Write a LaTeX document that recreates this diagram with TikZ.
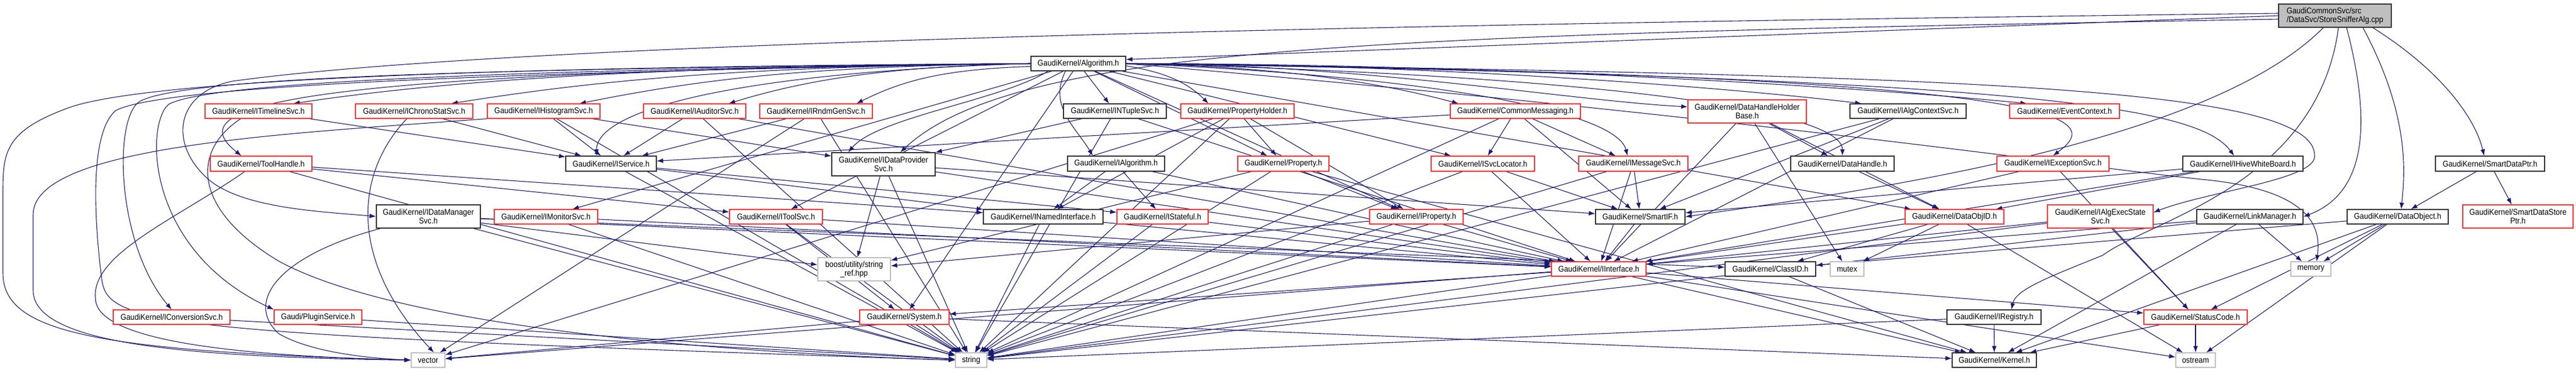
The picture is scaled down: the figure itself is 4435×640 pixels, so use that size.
\documentclass[tikz,border=0pt]{standalone}
\usepackage{fontspec}
\setmainfont{Liberation Sans}[FakeStretch=0.9]
\usetikzlibrary{arrows.meta}
\definecolor{gblue}{RGB}{25,25,112}
\definecolor{gred}{RGB}{255,50,50}
\definecolor{ggray}{RGB}{191,191,191}
\definecolor{gblk}{RGB}{50,50,50}
\pgfdeclarelayer{bg}
\pgfsetlayers{bg,main}
\newcommand\gfont{\fontsize{14.3}{15}\selectfont}
\newcommand\gnode[7]{%
 \pgfmathsetmacro\gw{#5-#3}%
 \pgfmathsetmacro\gh{#6-#4}%
 \pgfmathsetmacro\gx{(#3+#5)/2}%
 \pgfmathsetmacro\gy{(#4+#6)/2}%
 \node[#2,minimum width=\gw pt,minimum height=\gh pt] (#1) at (\gx,\gy) {#7};}
\tikzset{
 nb/.style={draw, line width=1.2pt, fill=white, inner sep=0pt, font=\gfont, align=center},
 blk/.style={nb, draw=gblk},
 rd/.style={nb, draw=gred},
 gr/.style={nb, draw=ggray},
 rt/.style={nb, draw=gblk, fill=ggray, align=left},
 e/.style={draw=gblue, line width=1.1pt, -{Latex[length=11pt,width=8pt]}},
}
\begin{document}
\begin{tikzpicture}[x=1pt,y=-1pt]
\useasboundingbox (0,0) rectangle (4435,640);
% row 0
\gnode{root}{rt}{3923}{7}{4117}{47}{GaudiCommonSvc/src\\/DataSvc/StoreSnifferAlg.cpp}
% row 1
\gnode{alg}{blk}{1775}{97}{1938}{122}{GaudiKernel/Algorithm.h}
% row 2
\gnode{tl}{rd}{353}{179}{537}{204}{GaudiKernel/ITimelineSvc.h}
\gnode{cs}{rd}{612}{179}{814}{204}{GaudiKernel/IChronoStatSvc.h}
\gnode{hs}{rd}{839}{179}{1033}{204}{GaudiKernel/IHistogramSvc.h}
\gnode{au}{rd}{1108}{179}{1284}{204}{GaudiKernel/IAuditorSvc.h}
\gnode{rg}{rd}{1308}{179}{1502}{204}{GaudiKernel/IRndmGenSvc.h}
\gnode{nt}{blk}{1831}{179}{2008}{204}{GaudiKernel/INTupleSvc.h}
\gnode{ph}{rd}{2033}{179}{2228}{204}{GaudiKernel/PropertyHolder.h}
\gnode{cm}{rd}{2497}{179}{2721}{204}{GaudiKernel/CommonMessaging.h}
\gnode{dhh}{rd}{2906}{172}{3110}{212}{GaudiKernel/DataHandleHolder\\Base.h}
\gnode{acs}{blk}{3185}{179}{3385}{204}{GaudiKernel/IAlgContextSvc.h}
\gnode{ec}{rd}{3460}{179}{3649}{204}{GaudiKernel/EventContext.h}
% row 3
\gnode{th}{rd}{362}{269}{537}{295}{GaudiKernel/ToolHandle.h}
\gnode{svc}{blk}{974}{269}{1130}{295}{GaudiKernel/IService.h}
\gnode{dps}{blk}{1432}{263}{1610}{303}{GaudiKernel/IDataProvider\\Svc.h}
\gnode{ialg}{blk}{1838}{269}{2005}{295}{GaudiKernel/IAlgorithm.h}
\gnode{prop}{rd}{2131}{269}{2288}{295}{GaudiKernel/Property.h}
\gnode{sl}{rd}{2464}{269}{2642}{295}{GaudiKernel/ISvcLocator.h}
\gnode{ms}{rd}{2718}{269}{2906}{295}{GaudiKernel/IMessageSvc.h}
\gnode{dh}{blk}{3083}{269}{3261}{295}{GaudiKernel/DataHandle.h}
\gnode{es}{rd}{3438}{269}{3631}{295}{GaudiKernel/IExceptionSvc.h}
\gnode{hwb}{blk}{3758}{269}{3965}{295}{GaudiKernel/IHiveWhiteBoard.h}
\gnode{sdp}{blk}{4193}{269}{4381}{295}{GaudiKernel/SmartDataPtr.h}
% row 4
\gnode{dms}{blk}{648}{353}{827}{393}{GaudiKernel/IDataManager\\Svc.h}
\gnode{mon}{rd}{851}{361}{1029}{386}{GaudiKernel/IMonitorSvc.h}
\gnode{ts}{rd}{1256}{361}{1416}{386}{GaudiKernel/IToolSvc.h}
\gnode{ni}{blk}{1693}{361}{1899}{386}{GaudiKernel/INamedInterface.h}
\gnode{st}{rd}{1923}{361}{2080}{386}{GaudiKernel/IStateful.h}
\gnode{ip}{rd}{2358}{361}{2519}{386}{GaudiKernel/IProperty.h}
\gnode{sif}{blk}{2747}{361}{2901}{386}{GaudiKernel/SmartIF.h}
\gnode{doid}{rd}{3280}{361}{3450}{386}{GaudiKernel/DataObjID.h}
\gnode{aes}{rd}{3525}{353}{3707}{393}{GaudiKernel/IAlgExecState\\Svc.h}
\gnode{lm}{blk}{3782}{361}{3965}{386}{GaudiKernel/LinkManager.h}
\gnode{dobj}{blk}{4041}{361}{4215}{386}{GaudiKernel/DataObject.h}
\gnode{sdsp}{rd}{4240}{353}{4430}{393}{GaudiKernel/SmartDataStore\\Ptr.h}
% row 5
\gnode{boost}{gr}{1408}{444}{1533}{484}{boost/utility/string\\\_ref.hpp}
\gnode{ii}{rd}{2671}{451}{2834}{476}{GaudiKernel/IInterface.h}
\gnode{cid}{blk}{2970}{451}{3126}{476}{GaudiKernel/ClassID.h}
\gnode{mutex}{gr}{3151}{451}{3209}{476}{mutex}
\gnode{mem}{gr}{3944}{451}{4013}{476}{memory}
% row 6
\gnode{conv}{rd}{195}{534}{396}{559}{GaudiKernel/IConversionSvc.h}
\gnode{plug}{rd}{472}{534}{623}{559}{Gaudi/PluginService.h}
\gnode{sys}{rd}{1480}{534}{1634}{559}{GaudiKernel/System.h}
\gnode{reg}{blk}{3352}{534}{3514}{559}{GaudiKernel/IRegistry.h}
\gnode{sc}{rd}{3691}{534}{3869}{559}{GaudiKernel/StatusCode.h}
% row 7
\gnode{vec}{gr}{708}{608}{766}{633}{vector}
\gnode{str}{gr}{1645}{608}{1699}{633}{string}
\gnode{ker}{blk}{3361}{608}{3506}{633}{GaudiKernel/Kernel.h}
\gnode{ost}{gr}{3746}{608}{3814}{633}{ostream}

\begin{pgfonlayer}{bg}
\fill[white] (0,0) rectangle (4435,640);
% root edges
\draw[e] (root.west) -- ([yshift=7pt]alg.east);
\draw[e] ([yshift=-6pt]root.west) .. controls (2400,60) and (1750,75) .. ([xshift=29pt]dps.north);
\draw[e] ([yshift=4pt]root.west) .. controls (2500,40) and (900,70) .. (400,140) .. controls (300,160) and (290,250) .. (360,310) .. controls (420,360) and (560,365) .. (dms.west);
\draw[e] ([xshift=20pt]root.south) .. controls (4080,200) and (4080,330) .. (lm.east);
\draw[e] ([xshift=48pt]root.south) .. controls (4150,200) and (4140,300) .. ([xshift=6pt]dobj.north);
\draw[e] ([xshift=65pt]root.south) .. controls (4200,120) and (4260,200) .. ([xshift=-10pt]sdp.north);
\draw[e] ([xshift=6pt]root.south) .. controls (3990,320) and (3700,380) .. (3620,440) .. controls (3520,480) and (3470,500) .. ([xshift=30pt]reg.north);
\draw[e] ([xshift=-20pt]root.south) .. controls (3800,250) and (3200,330) .. (sif.east);
% algorithm edges, left side
\draw[e] (alg.west) .. controls +(-600,5) and +(300,-45) .. ([xshift=60pt]tl.north);
\draw[e] (alg.west) .. controls +(-500,5) and +(250,-40) .. ([xshift=64pt]cs.north);
\draw[e] (alg.west) .. controls +(-400,5) and +(200,-40) .. ([xshift=-36pt]hs.north east);
\draw[e] (alg.west) .. controls +(-250,5) and +(130,-40) .. ([xshift=-30pt]au.north east);
\draw[e] ([yshift=-5pt]alg.west) .. controls +(-150,5) and +(80,-40) .. ([xshift=-28pt]rg.north east);
\draw[e] (alg.west) .. controls +(-500,15) and +(0,-80) .. ([xshift=-25pt]svc.north);
\draw[e] (alg.west) .. controls +(-1350,15) and +(-100,-80) .. ([xshift=-34pt]th.north);
\draw[e] ([xshift=30pt]alg.south west) .. controls +(-80,50) and +(50,-60) .. ([xshift=29pt]dps.north west);
\draw[e] ([xshift=60pt]alg.south west) .. controls +(-30,60) and +(-30,-50) .. ([xshift=-40pt]ialg.north);
% algorithm edges, right side
\draw[e] ([yshift=-4pt]alg.east) .. controls +(60,10) and +(-40,-40) .. ([xshift=-50pt]ph.north);
\draw[e] (alg.east) .. controls +(250,5) and +(-150,-40) .. ([xshift=-98pt]cm.north);
\draw[e] (alg.east) .. controls +(400,0) and +(-200,-10) .. ([yshift=8pt]dhh.west);
\draw[e] (alg.east) .. controls +(500,0) and +(-250,-30) .. ([xshift=-80pt]acs.north);
\draw[e] (alg.east) .. controls +(600,0) and +(-300,-30) .. ([xshift=-65pt]ec.north);
\draw[e] (alg.east) .. controls +(500,20) and +(-20,-80) .. ([xshift=-10pt]ms.north);
\draw[e] (alg.east) .. controls +(800,20) and +(0,-80) .. (dh.north);
\draw[e] (alg.east) .. controls +(1700,20) and +(80,-60) .. (es.north);
\draw[e] (alg.east) .. controls +(1600,25) and +(-60,-80) .. ([xshift=-15pt]hwb.north);
\draw[e] (alg.east) .. controls (3400,130) and (3990,150) .. (3985,270) .. controls (3983,310) and (3800,330) .. ([yshift=7pt]aes.east);
\draw[e] (alg.east) .. controls (3000,200) and (3600,290) .. (3800,310) .. controls (3990,330) and (3995,400) .. ([xshift=10pt]mem.north);
% far-left routed edges
\draw[e] (alg.west) .. controls (900,118) and (320,130) .. (240,175) .. controls (195,205) and (200,420) .. (conv.north);
\draw[e] (alg.west) .. controls (900,120) and (360,140) .. (290,180) .. controls (250,215) and (250,430) .. (plug.north west);
\draw[e] (alg.west) .. controls (800,115) and (250,140) .. (120,185) .. controls (10,225) and (5,260) .. (5,330) -- (5,470) .. controls (5,570) and (150,605) .. (vec.west);
\draw[e] (alg.west) .. controls (800,125) and (280,150) .. (200,190) .. controls (150,230) and (165,400) .. (175,480) .. controls (185,560) and (260,575) .. (str.west);
\draw[e] (hs.south west) .. controls (500,230) and (57,250) .. (57,370) -- (57,500) .. controls (57,590) and (300,615) .. (vec.west);
\draw[e] ([xshift=60pt]th.south west) .. controls (300,380) and (150,440) .. (165,520) .. controls (180,600) and (500,615) .. (vec.west);
\draw[e] ([xshift=62pt]tl.south west) .. controls (330,260) and (330,360) .. (480,450) .. controls (700,570) and (1300,610) .. (str.west);
\draw[e] ([xshift=8pt]dms.south west) .. controls (480,440) and (420,520) .. (480,575) .. controls (540,610) and (650,618) .. (vec.west);
\draw[e] ([xshift=89pt]cs.south west) .. controls (610,300) and (600,450) .. ([xshift=10pt]vec.north);
% straight edges
\foreach \a/\b in {alg/nt,alg/prop,alg/sl,alg/mon,alg/ts,alg/ip,alg/doid,alg/sys,
 tl/svc,cs/svc,hs/svc,hs/dps,hs/str,au/svc,au/str,au/ii,rg/svc,rg/vec,rg/str,
 th/ts,th/ni,th/str,svc/ni,svc/st,svc/str,dps/boost,dps/str,dps/ii,dps/sif,
 nt/dps,nt/ii,nt/str,ph/prop,ph/ip,ph/ni,ph/str,ph/vec,ialg/ni,ialg/st,ialg/ii,
 prop/ip,prop/str,prop/ker,prop/boost,cm/svc,cm/sl,cm/ms,cm/sif,cm/str,
 sl/ii,sl/sif,sl/str,ms/ii,ms/str,ms/sif,dhh/dh,dhh/doid,dhh/ii,dhh/mutex,
 acs/ii,acs/sif,acs/str,dh/doid,es/ii,es/sc,hwb/ii,hwb/doid,hwb/sif,
 sdp/dobj,sdp/sdsp,dms/str,dms/boost,dms/ii,dms/cid,mon/str,mon/ii,
 ts/ii,ts/str,ts/sys,ni/ii,ni/str,st/ii,st/str,ip/boost,ip/str,ip/ii,sif/ii,
 doid/cid,doid/mutex,doid/str,doid/ost,aes/sc,aes/ii,aes/str,
 lm/mem,lm/ker,lm/vec,lm/str,dobj/cid,dobj/mem,dobj/sc,dobj/ker,dobj/ost,
 ii/sys,ii/ker,ii/sc,ii/ost,cid/ker,reg/ker,reg/str,sc/ost,sc/ker,
 sys/str,sys/vec,sys/ker,conv/str,plug/str}
 {\draw[e] (\a) -- (\b);}
\end{pgfonlayer}
\end{tikzpicture}
\end{document}
